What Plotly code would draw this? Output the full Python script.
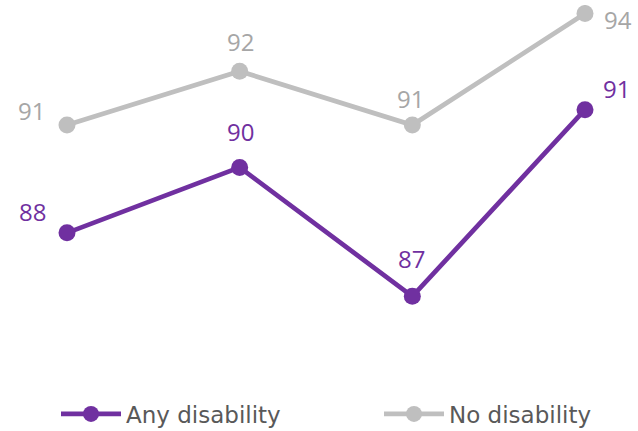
import plotly.graph_objects as go

categories = ["Period 1", "Period 2", "Period 3", "Period 4"]
any_disability = [88.2, 89.9, 86.55, 91.4]
no_disability = [91.0, 92.4, 91.0, 93.9]

PURPLE = "#7030A0"
GRAY_LINE = "#BFBFBF"
GRAY_TEXT = "#A6A6A6"
LABEL_FONT = "Open Sans"
LEGEND_FONT = "DejaVu Sans"

# label offsets (pixels) from each point to its data label centre
any_offsets = [(-34, 19), (1, 34), (-1, 36), (32, 19)]
no_offsets = [(-35, 13), (1, 28), (-2, 25), (33, -8)]

xs = list(range(len(categories)))

fig = go.Figure()
fig.add_trace(go.Scatter(
    x=xs, y=any_disability, name="Any disability",
    mode="lines+markers",
    line=dict(color=PURPLE, width=4.7),
    marker=dict(color=PURPLE, size=17),
    hoverinfo="skip", legend="legend",
))
fig.add_trace(go.Scatter(
    x=xs, y=no_disability, name="No disability",
    mode="lines+markers",
    line=dict(color=GRAY_LINE, width=4.7),
    marker=dict(color=GRAY_LINE, size=17),
    hoverinfo="skip", legend="legend2",
))

annotations = []
for vals, offs, col in [(any_disability, any_offsets, PURPLE),
                        (no_disability, no_offsets, GRAY_TEXT)]:
    for x, v, (dx, dy) in zip(xs, vals, offs):
        annotations.append(dict(
            x=x, y=v, xref="x", yref="y", text=f"{v:.0f}",
            showarrow=False, xanchor="center", yanchor="middle",
            xshift=dx, yshift=dy + 2,
            font=dict(family=LABEL_FONT, size=24, color=col),
        ))

legend_common = dict(
    orientation="h",
    xref="container", yref="container",
    xanchor="left", yanchor="middle",
    y=1 - 414/431,
    itemwidth=60,
    bgcolor="rgba(0,0,0,0)",
    font=dict(family=LEGEND_FONT, size=23, color="#595959"),
)

fig.update_layout(
    width=638, height=431,
    margin=dict(l=0, r=0, t=5, b=80),
    paper_bgcolor="white", plot_bgcolor="white",
    xaxis=dict(visible=False, range=[-0.388, 3.307]),
    yaxis=dict(visible=False, range=[85.13, 94.12]),
    showlegend=True,
    legend=dict(x=56/638, **legend_common),
    legend2=dict(x=379/638, **legend_common),
    annotations=annotations,
)

fig.write_html("out.html")
